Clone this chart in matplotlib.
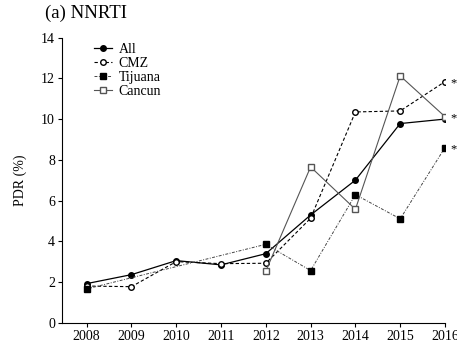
import matplotlib.pyplot as plt

plt.rcParams['font.family'] = ['Liberation Serif', 'DejaVu Serif']

# Anos e PDR (%) por região
anos = [2008, 2009, 2010, 2011, 2012, 2013, 2014, 2015, 2016]
pdr_all = [1.92, 2.36, 3.05, 2.84, 3.39, 5.29, 7.0, 9.78, 10.0]
pdr_cmz = [1.8, 1.77, 3.0, 2.9, 2.92, 5.13, 10.35, 10.4, 11.84]
anos_tijuana = [2008, 2012, 2013, 2014, 2015, 2016]
pdr_tijuana = [1.66, 3.85, 2.56, 6.29, 5.1, 8.6]
anos_cancun = [2012, 2013, 2014, 2015, 2016]
pdr_cancun = [2.54, 7.65, 5.57, 12.12, 10.12]

fig = plt.figure(figsize=(4.57, 3.42), dpi=100)
ax = fig.add_axes([0.1357, 0.0564, 0.838, 0.8336])

ax.plot(anos, pdr_all, color='black', linestyle='-', linewidth=0.9,
        marker='o', markersize=4, markerfacecolor='black', label='All')
ax.plot(anos, pdr_cmz, color='black', linestyle=(0, (3, 2)), linewidth=0.8,
        marker='o', markersize=4, markerfacecolor='white', label='CMZ')
ax.plot(anos_tijuana, pdr_tijuana, color='#444444', linestyle=(0, (3, 1.5, 1, 1.5)),
        linewidth=0.7, marker='s', markersize=4, markerfacecolor='black',
        markeredgecolor='black', label='Tijuana')
ax.plot(anos_cancun, pdr_cancun, color='#555555', linestyle='-', linewidth=0.8,
        marker='s', markersize=4.5, markerfacecolor='white',
        markeredgecolor='#555555', label='Cancun')

# asteriscos de significância em 2016
for y in [pdr_cmz[-1], pdr_cancun[-1], pdr_tijuana[-1]]:
    ax.annotate('*', xy=(2016, y), xytext=(4, -1), textcoords='offset points',
                fontsize=9, ha='left', va='center', annotation_clip=False)

ax.set_xlim(2007.45, 2016.0)
ax.set_ylim(0, 14)
ax.set_xticks(anos)
ax.set_yticks(range(0, 15, 2))
ax.tick_params(labelsize=10, length=3, width=0.8, direction='out', pad=2)
ax.spines['top'].set_visible(False)
ax.spines['right'].set_visible(False)
ax.set_ylabel('PDR (%)', fontsize=10, labelpad=10)

ax.legend(loc='upper left', bbox_to_anchor=(0.05, 1.025), frameon=False,
          fontsize=10, handlelength=1.3, handletextpad=0.5, labelspacing=0.08)
fig.text(0.098, 0.985, '(a) NNRTI', fontsize=13.5, ha='left', va='top')

fig.savefig('out.png', dpi=100)
